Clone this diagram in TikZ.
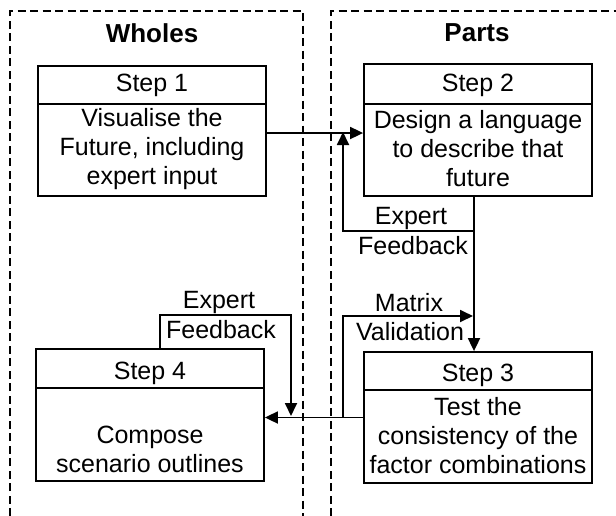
\documentclass[tikz,border=0pt]{standalone}
\usepackage{fontspec}
\setmainfont{Liberation Sans}
\usetikzlibrary{arrows.meta}
\begin{document}
\begin{tikzpicture}[x=1pt,y=-1pt,
  frame/.style={line width=1.3pt,dash pattern=on 8pt off 4.5pt},
  stepbox/.style={draw,line width=1.8pt,minimum width=228pt,inner sep=0pt},
  txt/.style={font=\fontsize{25}{29}\selectfont,inner sep=0pt,align=center},
  head/.style={font=\fontsize{26}{30}\selectfont\bfseries,inner sep=0pt},
  conn/.style={line width=1.8pt},
  arr/.style={line width=1.8pt,-{Triangle[length=13pt,width=12pt]}}]
\useasboundingbox (0,0) rectangle (616,515);
% frames
\draw[frame] (10,516) -- (10,11) -- (303,11) -- (303,516);
\draw[frame] (331,516) -- (331,11) -- (617,11);
\node[head] (wholes) at (152,33) {Wholes};
\node[head] (parts) at (477,33) {Parts};
% boxes
\node[stepbox,minimum height=130pt] (s1) at (152,131) {};
\node[stepbox,minimum height=132pt] (s2) at (478,130) {};
\node[stepbox,minimum height=131pt] (s3) at (478,417.5) {};
\node[stepbox,minimum height=132pt] (s4) at (150,415) {};
% dividers
\draw[conn] (s1.west |- 0,104) -- (s1.east |- 0,104);
\draw[conn] (s2.west |- 0,104) -- (s2.east |- 0,104);
\draw[conn] (s3.west |- 0,390) -- (s3.east |- 0,390);
\draw[conn] (s4.west |- 0,388) -- (s4.east |- 0,388);
% box texts
\node[txt] (h1) at (152,85) {Step 1};
\node[txt] (b1) at (152,149) {Visualise the\\Future, including\\expert input};
\node[txt] (h2) at (478,85) {Step 2};
\node[txt] (b2) at (478,149) {Design a language\\to describe that\\future};
\node[txt] (h3) at (478,375) {Step 3};
\node[txt] (b3) at (478,436) {Test the\\consistency of the\\factor combinations};
\node[txt] (h4) at (150,373) {Step 4};
\node[txt] (b4) at (150,449) {Compose\\scenario outlines};
% connectors
\draw[arr] ([yshift=-2pt]s1.east) -- ([yshift=-2pt]s1.east -| s2.west);
\draw[arr] ([xshift=-4pt]s2.south) -- ([xshift=-4pt]s3.north);
\coordinate (fbA) at (474,231);
\coordinate (fbB) at (343,231);
\coordinate (fbT) at (343,132);
\draw[arr] (fbA) -- (fbB) -- (fbT);
\draw[arr] (s3.west) -- (s3.west -| s4.east);
\coordinate (mvA) at (343,417);
\coordinate (mvB) at (343,316);
\coordinate (mvT) at (473,316);
\draw[arr] (mvA) -- (mvB) -- (mvT);
\coordinate (efA) at (160,315);
\coordinate (efB) at (291,315);
\coordinate (efT) at (291,416);
\draw[arr] (s4.north -| efA) -- (efA) -- (efB) -- (efT);
% labels
\node[txt] (l1) at (411,218) {Expert};
\node[txt] (l2) at (413,246) {Feedback};
\node[txt] (l3) at (409,303) {Matrix};
\node[txt] (l4) at (410,332) {Validation};
\node[txt] (l5) at (219,302) {Expert};
\node[txt] (l6) at (221,330) {Feedback};
\end{tikzpicture}
\end{document}
